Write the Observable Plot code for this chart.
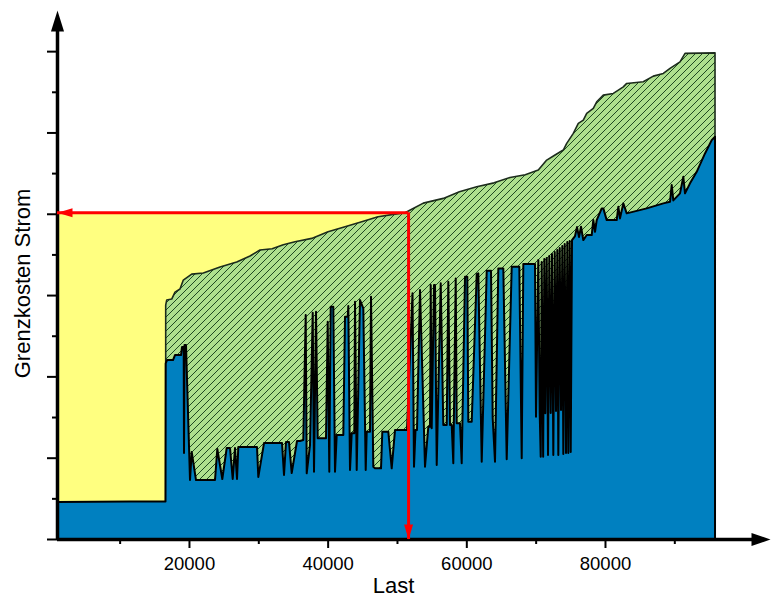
<!DOCTYPE html>
<html>
<head>
<meta charset="utf-8">
<script src="https://cdn.jsdelivr.net/npm/d3@7"></script>
<script src="https://cdn.jsdelivr.net/npm/@observablehq/plot@0.6"></script>
<style>
  html, body { margin: 0; padding: 0; background: #fff; }
</style>
</head>
<body>
<div id="chart"></div>
<script>
// Marginal cost of the hourly merit order (blue) against load
const blueLast = [
  966, 11495, 16615, 16644, 16832, 17697, 17985, 18851, 18995, 19240,
  19284, 19356, 19572, 20149, 20394, 21014, 23755, 24086, 24808, 25442,
  25918, 26308, 26639, 26928, 27115, 29812, 30000, 30822, 33418, 33707,
  33995, 34428, 34817, 35581, 36014, 36490, 36836, 36981, 37457, 37846,
  38033, 38322, 38567, 39764, 40009, 40240, 40442, 40817, 41062, 41307,
  42259, 42505, 42894, 42981, 43226, 43471, 43846, 43947, 44192, 44668,
  45144, 45490, 45634, 46110, 46255, 46586, 46832, 47697, 47884, 48750,
  49240, 49716, 51447, 52240, 52456, 52673, 52889, 53322, 54043, 54519,
  54764, 54865, 55009, 55341, 55485, 55731, 56308, 56682, 57173, 57404,
  57649, 57894, 58125, 58471, 58615, 59091, 59336, 59812, 60144, 60288,
  60779, 61500, 61730, 62221, 62942, 63562, 63807, 64139, 64615, 65336,
  65826, 66548, 67644, 67990, 68221, 69907, 70052, 70384, 70586, 70730,
  70874, 71082, 71250, 71394, 71596, 71783, 71971, 72173, 72360, 72548,
  72750, 72937, 73125, 73269, 73471, 73659, 73846, 73990, 74192, 74380,
  74567, 74711, 74913, 75058, 75245, 75678, 75966, 76255, 76543, 76875,
  77365, 78086, 78317, 78562, 78807, 79528, 79759, 80250, 81692, 81923,
  82168, 82644, 83134, 86019, 88413, 89379, 89624, 89855, 90822, 91298,
  91543, 92265, 93230, 94428, 95394, 95870
];
const blueCost = [
  4.55, 4.6, 4.6, 21.60, 22.01, 22.01, 22.62, 22.62, 23.61, 23.61,
  10.57, 23.85, 23.85, 7.25, 10.70, 7.25, 7.25, 11.07, 7.38, 11.19,
  11.19, 7.38, 11.19, 7.38, 11.31, 11.31, 7.62, 11.80, 11.80, 7.87,
  11.93, 11.93, 8.11, 12.05, 12.05, 12.17, 27.54, 8.08, 11.56, 27.82,
  8.27, 27.95, 12.38, 12.38, 26.72, 8.27, 28.56, 28.56, 8.27, 12.79,
  12.79, 27.33, 27.33, 28.65, 8.48, 13.00, 13.00, 29.18, 8.48, 29.39,
  28.37, 8.48, 13.19, 13.19, 29.79, 8.89, 8.69, 8.69, 13.19, 13.19,
  8.69, 13.40, 13.40, 30.21, 8.89, 13.40, 13.40, 30.62, 8.89, 13.81,
  13.81, 31.23, 13.61, 31.23, 31.23, 9.10, 31.44, 14.02, 14.02, 31.64,
  14.02, 14.02, 9.31, 32.05, 14.23, 14.23, 9.31, 32.25, 32.25, 14.42,
  14.42, 32.58, 32.67, 9.50, 32.99, 32.99, 14.84, 9.50, 33.28, 33.28,
  9.80, 33.48, 33.48, 9.92, 33.81, 33.81, 15.04, 34.30, 15.46, 10.12,
  34.06, 10.12, 34.43, 15.46, 34.55, 10.33, 34.80, 15.49, 35.04, 10.33,
  35.29, 15.74, 35.53, 10.33, 35.78, 15.86, 36.03, 10.45, 36.27, 10.57,
  36.52, 10.57, 36.64, 10.70, 36.76, 37.26, 38.36, 37.13, 38.40, 36.76,
  37.38, 37.38, 39.22, 37.78, 39.22, 40.66, 40.66, 39.22, 39.22, 40.86,
  39.43, 41.28, 40.05, 40.66, 41.28, 41.47, 43.53, 41.64, 42.51, 44.55,
  42.51, 43.74, 45.16, 47.42, 49.06, 49.47
];

// Upper envelope of the marginal cost (green, hatched)
const envLast = [
  16644, 16788, 17510, 17985, 18707, 19183, 20394, 22067, 24476, 26885,
  28803, 30245, 32000, 33600, 35293, 37702, 40053, 42505, 44913, 47264,
  49716, 51158, 52125, 53798, 56682, 59000, 61500, 64000, 66303, 68500,
  70384, 71596, 72793, 73990, 74480, 75432, 76153, 76875, 77365, 78317,
  78807, 79759, 81201, 82644, 83134, 85528, 86971, 88413, 89379, 90822,
  91543, 95870
];
const envCost = [
  28.77, 29.39, 29.51, 30.37, 30.74, 31.85, 32.58, 32.71, 33.44, 34.06,
  34.80, 35.54, 35.70, 36.20, 36.56, 36.97, 37.78, 38.40, 39.01, 39.63,
  39.96, 40.12, 40.55, 41.31, 41.89, 42.70, 43.32, 43.80, 44.47, 44.80,
  45.37, 46.60, 47.22, 47.84, 48.65, 49.88, 51.11, 51.52, 52.34, 52.96,
  53.77, 54.59, 54.80, 55.61, 56.03, 56.23, 56.93, 57.26, 57.88, 58.69,
  59.72, 59.79
];

// Operating point: load and the resulting marginal price
const demandLast = 51600;
const clearingPrice = 40.2;

// Axes
const xDomain = [966, 103800];
const yDomain = [0, 65.06];
const xTicksMajor = [20000, 40000, 60000, 80000];
const xTicksMinor = [10000, 30000, 50000, 70000, 90000];
const yTicksMajor = [0, 10, 20, 30, 40, 50, 60];
const yTicksMinor = [5, 15, 25, 35, 45, 55];
const xAxisEnd = 101640;  // where the x axis line meets its arrowhead
const yAxisEnd = 62.8;    // where the y axis line meets its arrowhead

const blue = blueLast.map((last, i) => ({last, cost: blueCost[i]}));
const envelope = envLast.map((last, i) => ({last, cost: envCost[i]}));

// Filled arrowhead symbol with its tip at the anchor point
function arrowHead(dir, w, len) {
  const h = w / 2;
  return {
    draw(ctx) {
      ctx.moveTo(0, 0);
      if (dir === "up") { ctx.lineTo(-h, len); ctx.lineTo(h, len); }
      else if (dir === "down") { ctx.lineTo(-h, -len); ctx.lineTo(h, -len); }
      else if (dir === "right") { ctx.lineTo(-len, -h); ctx.lineTo(-len, h); }
      else { ctx.lineTo(len, -h); ctx.lineTo(len, h); }
      ctx.closePath();
    }
  };
}

const chart = Plot.plot({
  width: 771,
  height: 597,
  marginLeft: 57,
  marginRight: 1,
  marginTop: 10,
  marginBottom: 58,
  style: {
    fontFamily: "'Liberation Sans', Arial, sans-serif",
    fontSize: "18.5px",
    background: "#fff",
    color: "#000",
    overflow: "visible"
  },
  x: {domain: xDomain},
  y: {domain: yDomain},
  marks: [
    // region under the price up to the load
    Plot.rect([{x1: xDomain[0], x2: demandLast, y1: 0, y2: clearingPrice}], {
      x1: "x1", x2: "x2", y1: "y1", y2: "y2", fill: "#ffff80"
    }),
    Plot.areaY(envelope, {
      x: "last", y: "cost", fill: "url(#gk-hatch)",
      stroke: "#1c2c1c", strokeWidth: 1.6
    }),
    Plot.areaY(blue, {
      x: "last", y: "cost", fill: "#0080c0",
      stroke: "#000", strokeWidth: 2
    }),
    // axis lines
    Plot.ruleX([xDomain[0]], {y1: () => 0, y2: () => yAxisEnd, stroke: "#000", strokeWidth: 3.5}),
    Plot.ruleY([0], {x1: () => xDomain[0], x2: () => xAxisEnd, stroke: "#000", strokeWidth: 3.5}),
    Plot.axisX({ticks: xTicksMajor, tickSize: 9, tickPadding: 8, strokeWidth: 2,
      tickFormat: d3.format("d"), label: null, fontSize: 18.5}),
    Plot.axisX({ticks: xTicksMinor, tickSize: 5, strokeWidth: 2,
      tickFormat: () => "", label: null}),
    Plot.axisY({ticks: yTicksMajor, tickSize: 10, strokeWidth: 2,
      tickFormat: () => "", label: null}),
    Plot.axisY({ticks: yTicksMinor, tickSize: 5, strokeWidth: 2,
      tickFormat: () => "", label: null}),
    Plot.dot([{x: xDomain[0], y: yDomain[1]}], {
      x: "x", y: "y", symbol: arrowHead("up", 13, 21), fill: "#000", stroke: "none"
    }),
    Plot.dot([{x: xDomain[1], y: 0}], {
      x: "x", y: "y", symbol: arrowHead("right", 13, 19), fill: "#000", stroke: "none"
    }),
    // price read-off at the operating point
    Plot.ruleY([clearingPrice], {x1: () => xDomain[0], x2: () => demandLast,
      stroke: "#ff0000", strokeWidth: 3}),
    Plot.ruleX([demandLast], {y1: () => 0, y2: () => clearingPrice,
      stroke: "#ff0000", strokeWidth: 3}),
    Plot.dot([{x: xDomain[0], y: clearingPrice}], {
      x: "x", y: "y", symbol: arrowHead("left", 9, 15), fill: "#ff0000", stroke: "none"
    }),
    Plot.dot([{x: demandLast, y: 0}], {
      x: "x", y: "y", symbol: arrowHead("down", 9, 15), fill: "#ff0000", stroke: "none"
    }),
    Plot.text(["Last"], {frameAnchor: "bottom", text: d => d, textAnchor: "middle",
      lineAnchor: "middle", dx: -20.5, dy: 46, fontSize: 22}),
    Plot.text(["Grenzkosten Strom"], {frameAnchor: "left", text: d => d, rotate: -90,
      textAnchor: "middle", lineAnchor: "middle", dx: -34.5, dy: 8.5, fontSize: 22})
  ]
});

// hatch pattern for the envelope band
d3.select(chart).insert("defs", ":first-child").html(
  '<pattern id="gk-hatch" patternUnits="userSpaceOnUse" width="7" height="7">' +
  '<rect width="7" height="7" fill="#aee08e"></rect>' +
  '<path d="M-1,1 l2,-2 M0,7 l7,-7 M6,8 l2,-2" stroke="#1f4a22" stroke-width="1"></path>' +
  '</pattern>'
);

document.getElementById("chart").append(chart);
</script>
</body>
</html>
